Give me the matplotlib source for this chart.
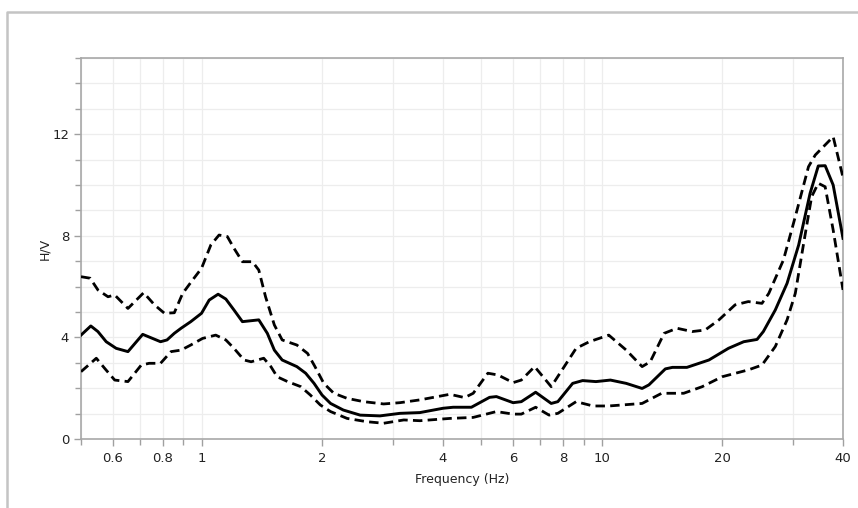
import matplotlib
matplotlib.use("Agg")
import matplotlib.pyplot as plt
from matplotlib.lines import Line2D
from matplotlib.ticker import FixedLocator, NullFormatter, MultipleLocator

# --- H/V curve (mean) ---
mean_f = [0.50, 0.529, 0.551, 0.578, 0.612, 0.655, 0.713, 0.79, 0.82, 0.855, 0.889, 0.94,
          1.0, 1.045, 1.10, 1.15, 1.205, 1.265, 1.39, 1.46, 1.52, 1.59, 1.73, 1.82, 1.91,
          2.0, 2.10, 2.26, 2.49, 2.79, 3.13, 3.51, 4.01, 4.25, 4.72, 5.24, 5.45, 6.0,
          6.29, 6.83, 7.47, 7.76, 8.45, 8.95, 9.66, 10.5, 11.5, 12.6, 13.1, 14.4, 15.0,
          16.3, 18.5, 20.7, 22.6, 24.4, 25.3, 27.1, 29.0, 31.0, 33.1, 34.7, 36.1, 37.8, 40.0]
mean_hv = [4.09, 4.45, 4.23, 3.83, 3.57, 3.44, 4.12, 3.83, 3.90, 4.16, 4.36, 4.62,
           4.95, 5.47, 5.70, 5.51, 5.08, 4.62, 4.69, 4.16, 3.50, 3.11, 2.85, 2.59, 2.19,
           1.73, 1.40, 1.14, 0.94, 0.91, 1.01, 1.04, 1.21, 1.25, 1.25, 1.64, 1.67, 1.43,
           1.47, 1.84, 1.40, 1.47, 2.19, 2.30, 2.26, 2.32, 2.19, 1.99, 2.13, 2.76, 2.82,
           2.82, 3.11, 3.57, 3.83, 3.92, 4.23, 5.08, 6.13, 7.64, 9.67, 10.75, 10.76, 10.0, 7.9]

# --- mean + std ---
upper_f = [0.50, 0.527, 0.551, 0.584, 0.607, 0.655, 0.717, 0.763, 0.808, 0.855, 0.897, 0.95,
           1.0, 1.055, 1.106, 1.16, 1.205, 1.265, 1.34, 1.39, 1.445, 1.52, 1.59, 1.73, 1.84,
           1.92, 2.02, 2.14, 2.31, 2.54, 2.85, 3.13, 3.51, 4.17, 4.54, 4.77, 5.19, 5.5,
           6.0, 6.29, 6.79, 7.47, 8.62, 9.3, 10.4, 11.5, 12.6, 13.2, 14.3, 15.4, 16.8,
           18.1, 19.6, 21.5, 23.2, 25.1, 26.1, 28.4, 30.4, 32.8, 34.1, 37.8, 40.0]
upper_hv = [6.39, 6.33, 5.87, 5.60, 5.67, 5.14, 5.76, 5.28, 4.95, 4.97, 5.73, 6.26,
            6.72, 7.64, 8.03, 7.97, 7.51, 6.98, 6.98, 6.65, 5.60, 4.49, 3.90, 3.70, 3.37,
            2.85, 2.19, 1.80, 1.60, 1.47, 1.38, 1.43, 1.54, 1.76, 1.63, 1.80, 2.59, 2.52,
            2.22, 2.32, 2.85, 2.06, 3.57, 3.83, 4.09, 3.50, 2.85, 3.04, 4.16, 4.36, 4.23,
            4.29, 4.69, 5.28, 5.41, 5.34, 5.73, 7.05, 8.75, 10.72, 11.18, 11.90, 10.3]

# --- mean - std ---
lower_f = [0.50, 0.546, 0.573, 0.607, 0.655, 0.707, 0.74, 0.79, 0.839, 0.889, 0.94, 1.006,
           1.085, 1.15, 1.205, 1.277, 1.33, 1.43, 1.49, 1.545, 1.64, 1.77, 1.87, 1.98,
           2.10, 2.31, 2.59, 2.85, 3.2, 3.51, 4.17, 4.77, 5.45, 6.0, 6.29, 6.83, 7.38,
           7.76, 8.62, 9.5, 10.4, 12.6, 14.1, 16.0, 17.8, 19.95, 23.2, 25.1, 27.1, 29.0,
           30.4, 32.0, 33.4, 34.7, 36.1, 37.8, 40.0]
lower_hv = [2.65, 3.18, 2.78, 2.32, 2.26, 2.91, 2.98, 2.98, 3.44, 3.50, 3.70, 3.96,
            4.09, 3.90, 3.57, 3.11, 3.04, 3.18, 2.85, 2.45, 2.26, 2.06, 1.73, 1.34,
            1.08, 0.81, 0.68, 0.62, 0.75, 0.72, 0.81, 0.85, 1.08, 0.98, 0.98, 1.25, 0.94,
            1.01, 1.47, 1.30, 1.30, 1.40, 1.80, 1.80, 2.06, 2.45, 2.72, 2.91, 3.64, 4.69,
            5.73, 7.83, 9.54, 10.07, 9.93, 8.23, 5.87]

x_labels = [0.6, 0.8, 1, 2, 4, 6, 8, 10, 20, 40]
y_labels = [0, 4, 8, 12]

fig = plt.figure(figsize=(8.58, 5.08), dpi=100)
ax = fig.add_axes([81 / 858, 1 - 439 / 508, 762 / 858, 381 / 508])

ax.plot(mean_f, mean_hv, color='black', linewidth=2.1, zorder=3)
ax.plot(upper_f, upper_hv, color='black', linewidth=2.0, linestyle=(0, (3.4, 1.9)), zorder=3)
ax.plot(lower_f, lower_hv, color='black', linewidth=2.0, linestyle=(0, (3.4, 1.9)), zorder=3)

ax.set_xscale('log')
ax.set_xlim(0.5, 40)
ax.set_ylim(0, 15)

# ticks
ax.xaxis.set_major_locator(FixedLocator(x_labels))
ax.set_xticklabels([f"{v:g}" for v in x_labels])
minor_x = [v * d for d in (0.1, 1, 10) for v in range(1, 10)]
minor_x = [m for m in minor_x if 0.5 <= m <= 40 and m not in x_labels]
ax.xaxis.set_minor_locator(FixedLocator(minor_x))
ax.xaxis.set_minor_formatter(NullFormatter())
ax.yaxis.set_major_locator(FixedLocator(y_labels))
ax.yaxis.set_minor_locator(MultipleLocator(1))

ax.tick_params(which='both', direction='out', colors='#a0a0a0', labelcolor='#222222',
               labelsize=9.5, width=1)
ax.tick_params(which='major', length=5)
ax.tick_params(which='minor', length=4)
ax.tick_params(axis='x', pad=4)

ax.grid(True, which='both', color='#ededed', linewidth=0.9, zorder=0)
ax.set_axisbelow(True)
for s in ax.spines.values():
    s.set_color('#a8a8a8')
    s.set_linewidth(1.2)

ax.set_xlabel('Frequency (Hz)', fontsize=9, color='#222222', labelpad=6)
ax.set_ylabel('H/V', fontsize=9, color='#222222', labelpad=1)

# outer frame
fig.add_artist(Line2D([7 / 858, 7 / 858, 1.0], [0.0, 1 - 12 / 508, 1 - 12 / 508],
                      transform=fig.transFigure, color='#c4c4c4', linewidth=1.8))

fig.savefig('out.png', dpi=100)
